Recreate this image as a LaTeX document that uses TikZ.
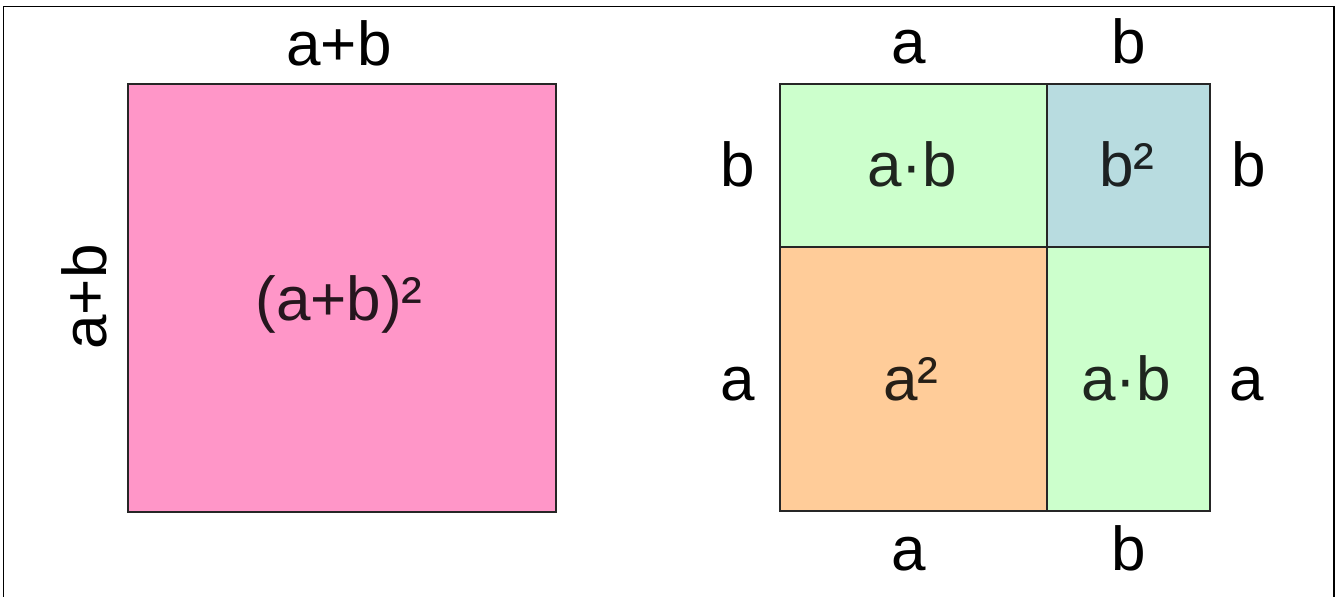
\documentclass[tikz,border=0pt]{standalone}
\usepackage{fontspec}
\setmainfont{Liberation Sans}
\definecolor{pinkfill}{HTML}{FF96C8}
\definecolor{greenfill}{HTML}{CCFFCC}
\definecolor{bluefill}{HTML}{B8DCE0}
\definecolor{peachfill}{HTML}{FFCC99}
\tikzset{
  lbl/.style={inner sep=0pt, anchor=base, font=\fontsize{62}{64}\selectfont},
  box/.style={draw=black!85, line width=2pt, inner sep=0pt, anchor=north west},
}
\begin{document}
\begin{tikzpicture}[x=1pt,y=-1pt]
\useasboundingbox (0,0) rectangle (1336,597);
% frame
\coordinate (f1) at (3.5,600);
\coordinate (f2) at (3.5,6.5);
\coordinate (f3) at (1334,6.5);
\coordinate (f4) at (1334,600);
\draw[line width=1.8pt] (f1) -- (f2) -- (f3) -- (f4);

% left square
\node[box, fill=pinkfill, minimum width=428pt, minimum height=428pt] (big) at (127,83) {};
\node[lbl, text=black!85!pinkfill] (bigt) at (339,320) {(a+b)²};
\node[lbl] (btop) at (339,65) {a+b};
\node[lbl, rotate=90] (bleft) at (106,297) {a+b};

% right grid
\node[box, fill=greenfill, minimum width=267pt, minimum height=163pt] (ab1) at (779,83) {};
\node[box, fill=bluefill, minimum width=163pt, minimum height=163pt] (bb) at (1046,83) {};
\node[box, fill=peachfill, minimum width=267pt, minimum height=264pt] (aa) at (779,246) {};
\node[box, fill=greenfill, minimum width=163pt, minimum height=264pt] (ab2) at (1046,246) {};

\node[lbl, text=black!85!greenfill] (ab1t) at (912,186) {a·b};
\node[lbl, text=black!85!bluefill] (bbt) at (1127,186) {b²};
\node[lbl, text=black!85!peachfill] (aat) at (911,400) {a²};
\node[lbl, text=black!85!greenfill] (ab2t) at (1126,400) {a·b};

% side labels
\node[lbl] (ta) at (909,63) {a};
\node[lbl] (tb) at (1129,63) {b};
\node[lbl] (ba) at (909,570) {a};
\node[lbl] (bbl) at (1129,570) {b};
\node[lbl] (lb) at (738,186) {b};
\node[lbl] (la) at (738,400) {a};
\node[lbl] (rb) at (1249,186) {b};
\node[lbl] (ra) at (1247,400) {a};
\end{tikzpicture}
\end{document}
